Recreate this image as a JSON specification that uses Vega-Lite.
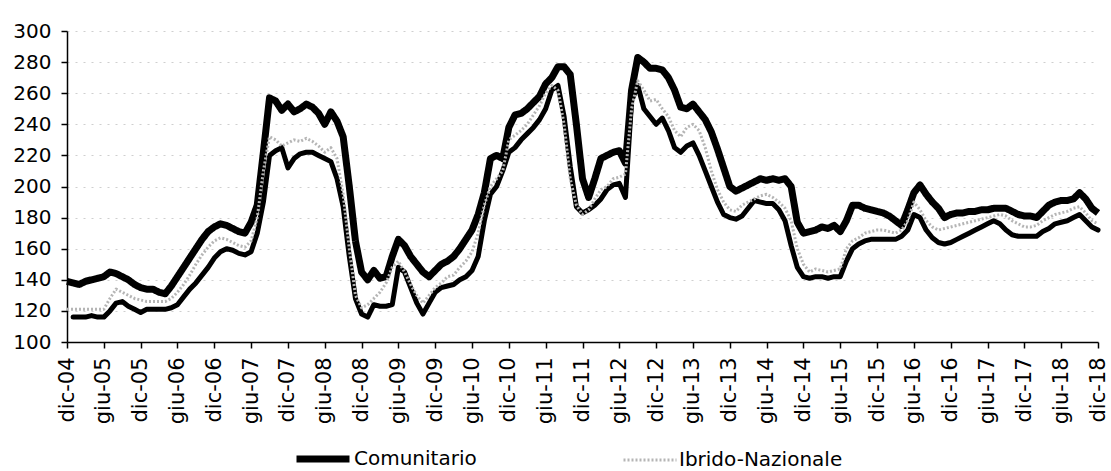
{
  "$schema": "https://vega.github.io/schema/vega-lite/v6.json",
  "width": 1031,
  "height": 311,
  "autosize": {"type": "none"},
  "padding": {"left": 67, "top": 31, "right": 13, "bottom": 129},
  "background": "white",
  "config": {
    "view": {"stroke": null},
    "font": "DejaVu Sans",
    "axis": {"labelFont": "DejaVu Sans", "labelColor": "#000000", "domainColor": "#000000", "tickColor": "#000000", "domainWidth": 1.5, "tickWidth": 1.5, "tickSize": 6, "title": null, "labelOverlap": false}
  },
  "data": {"values": [
    {"mese":"dic-04","C":139,"I":121,"L":null},
    {"mese":"gen-05","C":138,"I":121,"L":116},{"mese":"feb-05","C":137,"I":121,"L":116},{"mese":"mar-05","C":139,"I":121,"L":116},{"mese":"apr-05","C":140,"I":121,"L":117},{"mese":"mag-05","C":141,"I":121,"L":116},{"mese":"giu-05","C":142,"I":121,"L":116},{"mese":"lug-05","C":145,"I":128,"L":120},{"mese":"ago-05","C":144,"I":134,"L":125},{"mese":"set-05","C":142,"I":132,"L":126},{"mese":"ott-05","C":140,"I":130,"L":123},{"mese":"nov-05","C":137,"I":128,"L":121},{"mese":"dic-05","C":135,"I":127,"L":119},
    {"mese":"gen-06","C":134,"I":126,"L":121},{"mese":"feb-06","C":134,"I":126,"L":121},{"mese":"mar-06","C":132,"I":126,"L":121},{"mese":"apr-06","C":131,"I":126,"L":121},{"mese":"mag-06","C":136,"I":128,"L":122},{"mese":"giu-06","C":142,"I":132,"L":124},{"mese":"lug-06","C":148,"I":137,"L":129},{"mese":"ago-06","C":154,"I":143,"L":134},{"mese":"set-06","C":160,"I":150,"L":138},{"mese":"ott-06","C":166,"I":156,"L":143},{"mese":"nov-06","C":171,"I":161,"L":148},{"mese":"dic-06","C":174,"I":165,"L":154},
    {"mese":"gen-07","C":176,"I":167,"L":158},{"mese":"feb-07","C":175,"I":166,"L":160},{"mese":"mar-07","C":173,"I":164,"L":159},{"mese":"apr-07","C":171,"I":162,"L":157},{"mese":"mag-07","C":170,"I":161,"L":156},{"mese":"giu-07","C":177,"I":165,"L":158},{"mese":"lug-07","C":188,"I":180,"L":170},{"mese":"ago-07","C":222,"I":210,"L":190},{"mese":"set-07","C":257,"I":232,"L":220},{"mese":"ott-07","C":255,"I":230,"L":223},{"mese":"nov-07","C":249,"I":226,"L":225},{"mese":"dic-07","C":253,"I":228,"L":212},
    {"mese":"gen-08","C":248,"I":230,"L":218},{"mese":"feb-08","C":250,"I":229,"L":221},{"mese":"mar-08","C":253,"I":231,"L":222},{"mese":"apr-08","C":251,"I":229,"L":222},{"mese":"mag-08","C":247,"I":226,"L":220},{"mese":"giu-08","C":240,"I":222,"L":218},{"mese":"lug-08","C":248,"I":225,"L":216},{"mese":"ago-08","C":242,"I":218,"L":205},{"mese":"set-08","C":232,"I":195,"L":187},{"mese":"ott-08","C":200,"I":160,"L":155},{"mese":"nov-08","C":165,"I":130,"L":128},{"mese":"dic-08","C":145,"I":122,"L":118},
    {"mese":"gen-09","C":140,"I":124,"L":116},{"mese":"feb-09","C":146,"I":128,"L":124},{"mese":"mar-09","C":141,"I":132,"L":123},{"mese":"apr-09","C":142,"I":138,"L":123},{"mese":"mag-09","C":155,"I":148,"L":124},{"mese":"giu-09","C":166,"I":152,"L":148},{"mese":"lug-09","C":162,"I":145,"L":145},{"mese":"ago-09","C":155,"I":137,"L":135},{"mese":"set-09","C":150,"I":130,"L":125},{"mese":"ott-09","C":145,"I":125,"L":118},{"mese":"nov-09","C":142,"I":130,"L":125},{"mese":"dic-09","C":146,"I":135,"L":132},
    {"mese":"gen-10","C":150,"I":138,"L":135},{"mese":"feb-10","C":152,"I":142,"L":136},{"mese":"mar-10","C":155,"I":143,"L":137},{"mese":"apr-10","C":160,"I":148,"L":140},{"mese":"mag-10","C":166,"I":152,"L":142},{"mese":"giu-10","C":172,"I":158,"L":146},{"mese":"lug-10","C":182,"I":170,"L":155},{"mese":"ago-10","C":196,"I":188,"L":178},{"mese":"set-10","C":218,"I":200,"L":195},{"mese":"ott-10","C":220,"I":205,"L":200},{"mese":"nov-10","C":218,"I":210,"L":210},{"mese":"dic-10","C":238,"I":230,"L":222},
    {"mese":"gen-11","C":246,"I":233,"L":225},{"mese":"feb-11","C":247,"I":236,"L":230},{"mese":"mar-11","C":250,"I":240,"L":234},{"mese":"apr-11","C":254,"I":246,"L":238},{"mese":"mag-11","C":258,"I":252,"L":243},{"mese":"giu-11","C":266,"I":260,"L":250},{"mese":"lug-11","C":270,"I":265,"L":262},{"mese":"ago-11","C":277,"I":262,"L":265},{"mese":"set-11","C":277,"I":240,"L":245},{"mese":"ott-11","C":272,"I":205,"L":213},{"mese":"nov-11","C":240,"I":188,"L":187},{"mese":"dic-11","C":205,"I":182,"L":183},
    {"mese":"gen-12","C":193,"I":185,"L":185},{"mese":"feb-12","C":205,"I":192,"L":188},{"mese":"mar-12","C":218,"I":198,"L":192},{"mese":"apr-12","C":220,"I":200,"L":198},{"mese":"mag-12","C":222,"I":205,"L":201},{"mese":"giu-12","C":223,"I":206,"L":202},{"mese":"lug-12","C":215,"I":208,"L":193},{"mese":"ago-12","C":262,"I":250,"L":255},{"mese":"set-12","C":283,"I":268,"L":265},{"mese":"ott-12","C":280,"I":262,"L":250},{"mese":"nov-12","C":276,"I":255,"L":245},{"mese":"dic-12","C":276,"I":256,"L":240},
    {"mese":"gen-13","C":275,"I":250,"L":244},{"mese":"feb-13","C":270,"I":245,"L":236},{"mese":"mar-13","C":262,"I":236,"L":225},{"mese":"apr-13","C":251,"I":232,"L":222},{"mese":"mag-13","C":250,"I":238,"L":226},{"mese":"giu-13","C":253,"I":240,"L":228},{"mese":"lug-13","C":248,"I":236,"L":220},{"mese":"ago-13","C":243,"I":225,"L":210},{"mese":"set-13","C":235,"I":210,"L":200},{"mese":"ott-13","C":224,"I":198,"L":190},{"mese":"nov-13","C":212,"I":190,"L":182},{"mese":"dic-13","C":200,"I":185,"L":180},
    {"mese":"gen-14","C":197,"I":184,"L":179},{"mese":"feb-14","C":199,"I":188,"L":181},{"mese":"mar-14","C":201,"I":190,"L":186},{"mese":"apr-14","C":203,"I":192,"L":191},{"mese":"mag-14","C":205,"I":194,"L":190},{"mese":"giu-14","C":204,"I":195,"L":189},{"mese":"lug-14","C":205,"I":193,"L":189},{"mese":"ago-14","C":204,"I":190,"L":185},{"mese":"set-14","C":205,"I":186,"L":178},{"mese":"ott-14","C":200,"I":178,"L":162},{"mese":"nov-14","C":177,"I":160,"L":148},{"mese":"dic-14","C":170,"I":150,"L":142},
    {"mese":"gen-15","C":171,"I":145,"L":141},{"mese":"feb-15","C":172,"I":147,"L":142},{"mese":"mar-15","C":174,"I":146,"L":142},{"mese":"apr-15","C":173,"I":145,"L":141},{"mese":"mag-15","C":175,"I":146,"L":142},{"mese":"giu-15","C":171,"I":147,"L":142},{"mese":"lug-15","C":178,"I":160,"L":152},{"mese":"ago-15","C":188,"I":165,"L":160},{"mese":"set-15","C":188,"I":167,"L":163},{"mese":"ott-15","C":186,"I":170,"L":165},{"mese":"nov-15","C":185,"I":171,"L":166},{"mese":"dic-15","C":184,"I":172,"L":166},
    {"mese":"gen-16","C":183,"I":172,"L":166},{"mese":"feb-16","C":181,"I":171,"L":166},{"mese":"mar-16","C":178,"I":170,"L":166},{"mese":"apr-16","C":175,"I":172,"L":168},{"mese":"mag-16","C":185,"I":178,"L":172},{"mese":"giu-16","C":196,"I":190,"L":182},{"mese":"lug-16","C":201,"I":185,"L":180},{"mese":"ago-16","C":195,"I":178,"L":172},{"mese":"set-16","C":190,"I":174,"L":167},{"mese":"ott-16","C":186,"I":172,"L":164},{"mese":"nov-16","C":180,"I":173,"L":163},{"mese":"dic-16","C":182,"I":174,"L":164},
    {"mese":"gen-17","C":183,"I":175,"L":166},{"mese":"feb-17","C":183,"I":176,"L":168},{"mese":"mar-17","C":184,"I":177,"L":170},{"mese":"apr-17","C":184,"I":178,"L":172},{"mese":"mag-17","C":185,"I":179,"L":174},{"mese":"giu-17","C":185,"I":180,"L":176},{"mese":"lug-17","C":186,"I":181,"L":178},{"mese":"ago-17","C":186,"I":182,"L":176},{"mese":"set-17","C":186,"I":181,"L":172},{"mese":"ott-17","C":184,"I":178,"L":169},{"mese":"nov-17","C":182,"I":176,"L":168},{"mese":"dic-17","C":181,"I":174,"L":168},
    {"mese":"gen-18","C":181,"I":174,"L":168},{"mese":"feb-18","C":180,"I":175,"L":168},{"mese":"mar-18","C":184,"I":178,"L":171},{"mese":"apr-18","C":188,"I":180,"L":173},{"mese":"mag-18","C":190,"I":182,"L":176},{"mese":"giu-18","C":191,"I":183,"L":177},{"mese":"lug-18","C":191,"I":184,"L":178},{"mese":"ago-18","C":192,"I":186,"L":180},{"mese":"set-18","C":196,"I":187,"L":182},{"mese":"ott-18","C":192,"I":183,"L":178},{"mese":"nov-18","C":186,"I":178,"L":174},{"mese":"dic-18","C":183,"I":176,"L":172}
  ]},
  "encoding": {
    "x": {
      "field": "mese", "type": "ordinal", "sort": null,
      "scale": {"type": "point", "padding": 0},
      "axis": {
        "values": ["dic-04","giu-05","dic-05","giu-06","dic-06","giu-07","dic-07","giu-08","dic-08","giu-09","dic-09","giu-10","dic-10","giu-11","dic-11","giu-12","dic-12","giu-13","dic-13","giu-14","dic-14","giu-15","dic-15","giu-16","dic-16","giu-17","dic-17","giu-18","dic-18"],
        "labelAngle": -90, "labelPadding": 9, "labelFontSize": 21, "grid": false, "labelOverlap": false
      }
    },
    "y": {
      "type": "quantitative",
      "scale": {"domain": [100, 300], "nice": false, "zero": false},
      "axis": {"values": [100,120,140,160,180,200,220,240,260,280,300], "labelOverlap": false, "labelFontSize": 20, "labelPadding": 10, "grid": true, "gridColor": "#cfcfcf", "gridDash": [2, 6], "gridWidth": 1}
    }
  },
  "layer": [
    {
      "mark": {"type": "line", "color": "#000000", "strokeWidth": 5, "strokeJoin": "round", "strokeCap": "round"},
      "encoding": {
        "y": {"field": "L", "type": "quantitative",
          "scale": {"domain": [100, 300], "nice": false, "zero": false},
          "axis": {"values": [100,120,140,160,180,200,220,240,260,280,300], "labelOverlap": false, "labelFontSize": 20, "labelPadding": 10, "grid": true, "gridColor": "#cfcfcf", "gridDash": [2, 6], "gridWidth": 1}
        }
      }
    },
    {
      "transform": [{"fold": ["C", "I"], "as": ["serie", "valore"]}],
      "mark": {"type": "line", "strokeJoin": "round", "strokeCap": "butt"},
      "encoding": {
        "y": {"field": "valore", "type": "quantitative",
          "scale": {"domain": [100, 300], "nice": false, "zero": false},
          "axis": {"values": [100,120,140,160,180,200,220,240,260,280,300], "labelOverlap": false, "labelFontSize": 20, "labelPadding": 10, "grid": true, "gridColor": "#cfcfcf", "gridDash": [2, 6], "gridWidth": 1}
        },
        "color": {"field": "serie", "type": "nominal",
          "scale": {"domain": ["C", "I"], "range": ["#000000", "#b5b5b5"]},
          "legend": {
            "orient": "none", "legendX": 226, "legendY": 398, "direction": "horizontal", "title": null,
            "symbolType": "stroke", "symbolSize": 2809, "labelFontSize": 20, "labelFont": "DejaVu Sans", "labelColor": "#000000",
            "columnPadding": 140, "labelOffset": 1, "labelLimit": 0,
            "labelExpr": "datum.label == 'C' ? 'Comunitario' : 'Ibrido-Nazionale'"
          }
        },
        "strokeWidth": {"field": "serie", "type": "nominal", "scale": {"domain": ["C", "I"], "range": [7, 3]}},
        "strokeDash": {"field": "serie", "type": "nominal", "scale": {"domain": ["C", "I"], "range": [[1, 0], [2, 2]]}}
      }
    }
  ]
}
